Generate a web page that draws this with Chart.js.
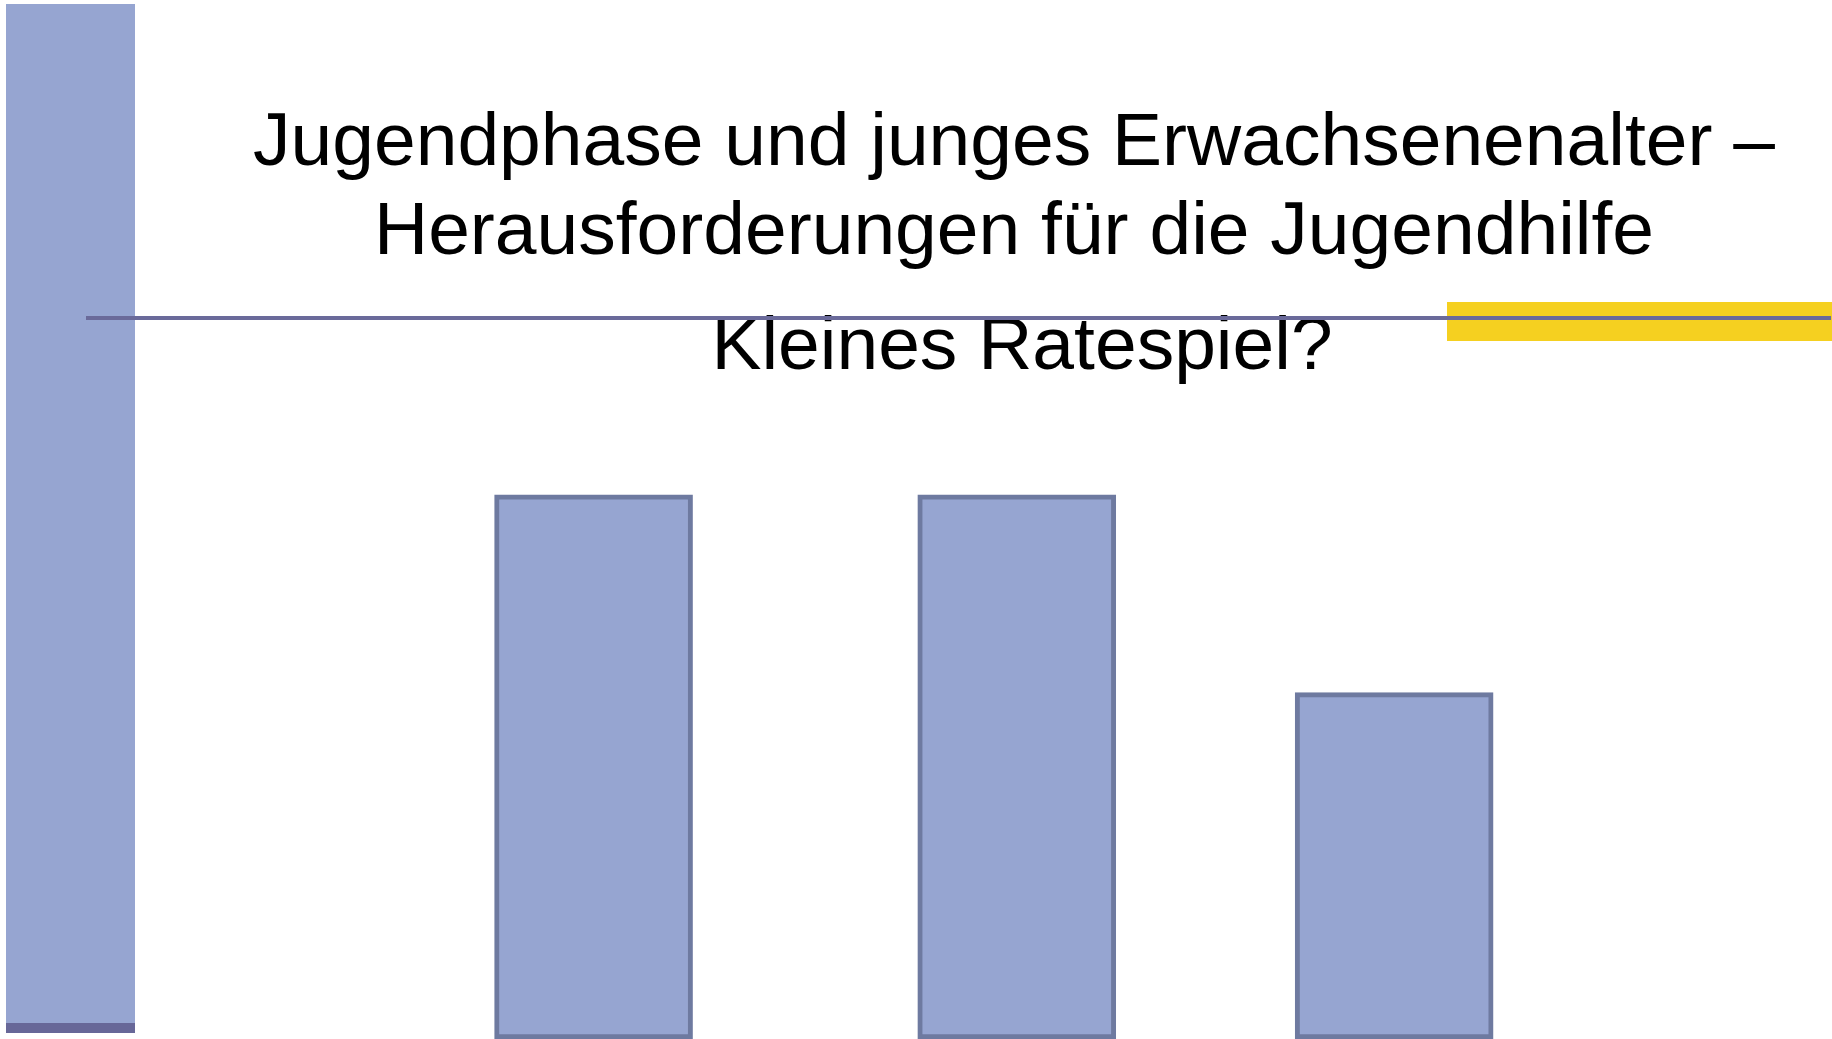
<!DOCTYPE html>
<html lang="de">
<head>
  <meta charset="UTF-8">
  <title>Kleines Ratespiel?</title>
  <script src="https://cdn.jsdelivr.net/npm/chart.js"></script>
  <style>
    body { margin: 0; width: 1832px; height: 1039px; overflow: hidden; background: #fff; position: relative; font-family: "Liberation Sans", Arial, sans-serif; }
    #chartBox { position: absolute; left: 0; top: 0; width: 1832px; height: 1039px; }
    .deco { position: absolute; }
    #sideBar { left: 6px; top: 4px; width: 129px; height: 1029px; background: #96a5d1; }
    #sideFoot { left: 6px; top: 1023px; width: 129px; height: 10px; background: #676798; }
    #yellow { left: 1447px; top: 302px; width: 385px; height: 39px; background: #f5d020; }
    #rule { left: 86px; top: 316px; width: 1745px; height: 4px; background: #6a6a9a; }
    .txt { position: absolute; transform: translateX(-50%); white-space: nowrap; text-align: center; font-size: 75px; line-height: 89px; color: #000; }
    #title { left: 1014px; top: 95px; }
    #sub { left: 1022px; top: 299px; }
  </style>
</head>
<body>
  <div class="deco" id="sideBar"></div>
  <div class="deco" id="sideFoot"></div>
  <div class="deco" id="yellow"></div>
  <div class="txt" id="title">Jugendphase und junges Erwachsenenalter –<br>Herausforderungen für die Jugendhilfe</div>
  <div class="txt" id="sub">Kleines Ratespiel?</div>
  <div id="chartBox"><canvas id="guessChart" width="1832" height="1039"></canvas></div>
  <div class="deco" id="rule"></div>

  <script>
    // Balken ohne Beschriftung, Positionen auf der x-Achse (0..10)
    const barPositions = [3.24, 5.55, 7.61];
    const guessValues = [11, 11, 7];

    const ctx = document.getElementById("guessChart").getContext("2d");
    new Chart(ctx, {
      type: "bar",
      data: {
        datasets: [{
          data: barPositions.map((x, i) => ({ x: x, y: guessValues[i] })),
          backgroundColor: "#96a5d1",
          borderColor: "#6e7aa0",
          borderWidth: 5,
          borderSkipped: false,
          barThickness: 198
        }]
      },
      options: {
        responsive: false,
        animation: false,
        layout: { padding: 0 },
        plugins: {
          legend: { display: false },
          tooltip: { enabled: false }
        },
        scales: {
          x: { type: "linear", min: 0, max: 10, offset: false, display: false },
          y: { min: 0, max: 21, display: false }
        }
      }
    });
  </script>
</body>
</html>
